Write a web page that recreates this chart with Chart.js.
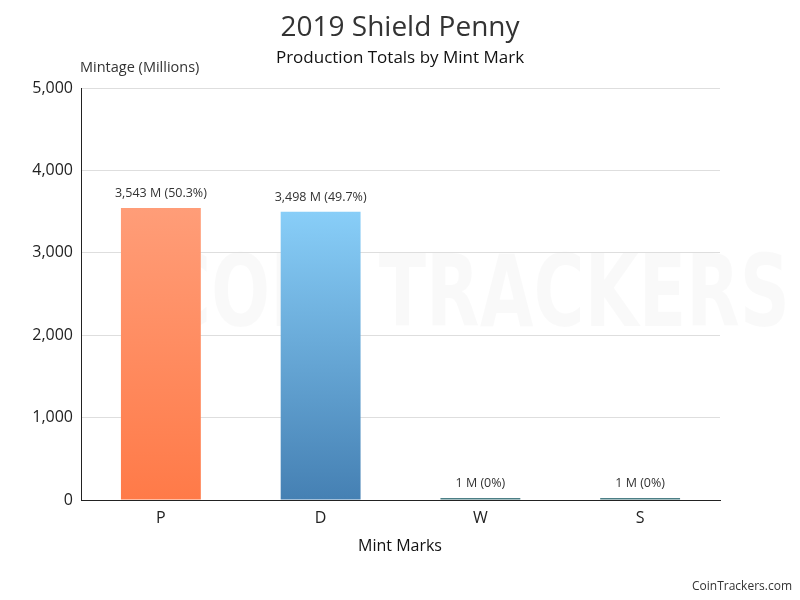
<!DOCTYPE html>
<html>
<head>
<meta charset="utf-8">
<script src="https://cdn.jsdelivr.net/npm/chart.js@4"></script>
<style>
html,body{margin:0;padding:0;background:#fff;}
#wrap{width:800px;height:600px;position:relative;}
</style>
</head>
<body>
<div id="wrap"><canvas id="barChart" width="800" height="600"></canvas></div>
<script>
// data
var mints = ["P", "D", "W", "S"];
var mintage = [3543, 3498, 1, 1];      // millions
var shares = ["50.3%", "49.7%", "0%", "0%"];
var yTicks = [0, 1000, 2000, 3000, 4000, 5000];

var FONT = "'Open Sans', 'Noto Sans', sans-serif";

// top/bottom colour of each bar
var topCol = ["#ff9d78", "#89cff9", "#4c7f86", "#4c7f86"];
var botCol = ["#ff7a48", "#4580b3", "#4c7f86", "#4c7f86"];

function barFill(c){
	var area = c.chart.chartArea;
	if(!area) return topCol[c.dataIndex];
	var g = c.chart.ctx.createLinearGradient(0, area.top + 120, 0, area.bottom);
	g.addColorStop(0, topCol[c.dataIndex]);
	g.addColorStop(1, botCol[c.dataIndex]);
	return g;
}

var textPlugin = {
	id: 'texts',
	beforeDraw: function(chart){
		var ctx = chart.ctx;
		ctx.save();
		// faint watermark
		ctx.fillStyle = "rgba(0,0,0,0.022)";
		ctx.font = "bold 100px 'DejaVu Sans Condensed', sans-serif";
		ctx.textBaseline = "middle";
		ctx.textAlign = "left";
		var w = ctx.measureText("COIN TRACKERS").width;
		ctx.translate(160, 300);
		ctx.scale(630 / w, 1);
		ctx.fillText("COIN TRACKERS", 0, 0);
		ctx.restore();
	},
	afterDraw: function(chart){
		var ctx = chart.ctx;
		ctx.save();
		ctx.fillStyle = "#333";
		ctx.textAlign = "center";
		ctx.textBaseline = "middle";
		ctx.font = "28px " + FONT;
		ctx.fillText("2019 Shield Penny", 400, 28);
		ctx.fillStyle = "#111";
		ctx.font = "17px " + FONT;
		ctx.fillText("Production Totals by Mint Mark", 400, 58);
		ctx.font = "16px " + FONT;
		ctx.fillText("Mint Marks", 400, 546);
		ctx.fillStyle = "#333";
		ctx.textAlign = "left";
		ctx.font = "14.5px " + FONT;
		ctx.fillText("Mintage (Millions)", 80, 68);
		ctx.textAlign = "right";
		ctx.font = "12px " + FONT;
		ctx.fillText("CoinTrackers.com", 792, 587);

		// value labels above bars
		var meta = chart.getDatasetMeta(0);
		ctx.textAlign = "center";
		ctx.textBaseline = "bottom";
		ctx.font = "12.5px " + FONT;
		ctx.fillStyle = "#333";
		meta.data.forEach(function(bar, i){
			var txt = mintage[i].toLocaleString('en-US') + " M (" + shares[i] + ")";
			ctx.fillText(txt, bar.x, bar.y - 8);
		});
		ctx.restore();
	}
};

var ctx = document.getElementById("barChart").getContext('2d');
var myBarChart = new Chart(ctx, {
	type: 'bar',
	data: {
		labels: mints,
		datasets: [{
			data: mintage,
			backgroundColor: barFill,
			borderWidth: 0,
			minBarLength: 2,
			barPercentage: 0.5,
			categoryPercentage: 1
		}]
	},
	options: {
		responsive: false,
		animation: false,
		layout: { padding: { top: 88, right: 80, left: 0, bottom: 0 } },
		plugins: {
			legend: { display: false },
			tooltip: { enabled: false }
		},
		scales: {
			x: {
				grid: { display: false, drawTicks: false },
				border: { display: true, color: "#222", width: 1 },
				ticks: { color: "#222", padding: 9, font: { size: 16, family: FONT } },
				afterFit: function(s){ s.height = 100; }
			},
			y: {
				min: 0,
				max: 5000,
				afterBuildTicks: function(s){
					s.ticks = yTicks.map(function(v){ return { value: v }; });
				},
				grid: { color: "#dedede", drawTicks: false },
				border: { display: true, color: "#222", width: 1 },
				ticks: {
					color: "#222",
					padding: 8,
					font: { size: 16, family: FONT },
					callback: function(v){ return v.toLocaleString('en-US'); }
				},
				afterFit: function(s){ s.width = 81; }
			}
		}
	},
	plugins: [textPlugin]
});
</script>
</body>
</html>
